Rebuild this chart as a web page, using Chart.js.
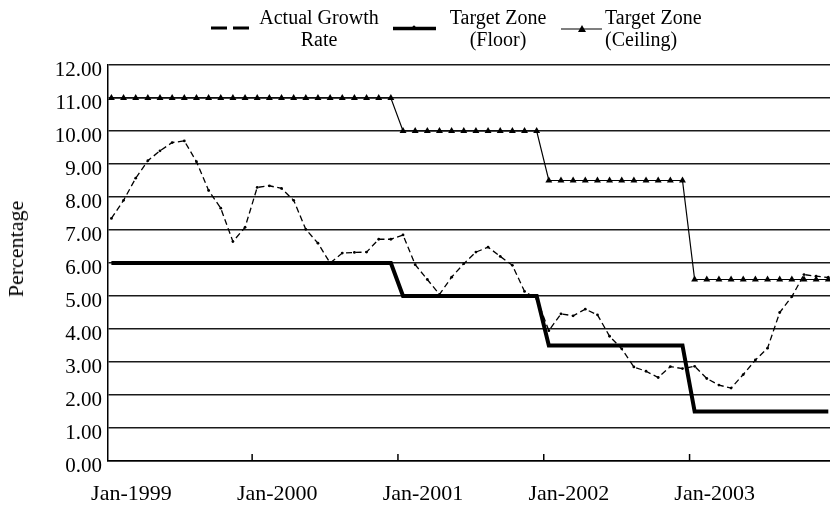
<!DOCTYPE html>
<html><head><meta charset="utf-8">
<script src="https://cdn.jsdelivr.net/npm/chart.js@4"></script>
<style>
html,body{margin:0;padding:0;background:#fff;}
#wrap{position:relative;width:830px;height:506px;overflow:hidden;}
canvas{position:absolute;left:0;top:0;}
#lgsvg{position:absolute;left:0;top:0;}
.lg{position:absolute;font-family:"Liberation Serif","Times New Roman",serif;font-size:20px;line-height:22px;color:#000;white-space:nowrap;}
#ytitle{position:absolute;font-family:"Liberation Serif","Times New Roman",serif;font-size:22px;line-height:24px;color:#000;left:15.5px;top:249px;transform:translate(-50%,-50%) rotate(-90deg);white-space:nowrap;}
</style></head>
<body>
<div id="wrap">
<canvas id="c" width="830" height="506"></canvas>
<svg id="lgsvg" width="830" height="60">
  <line x1="211" y1="28" x2="250" y2="28" stroke="#000" stroke-width="3" stroke-dasharray="16 6"/>
  <line x1="393" y1="28.5" x2="436" y2="28.5" stroke="#000" stroke-width="3.5"/>
  <circle cx="414" cy="27" r="1.5" fill="#000"/>
  <line x1="561" y1="29" x2="602" y2="29" stroke="#000" stroke-width="1.2"/>
  <polygon points="582,25 586,32 578,32" fill="#000"/>
</svg>
<div class="lg" style="left:239px;width:160px;top:6px;text-align:center">Actual Growth<br>Rate</div>
<div class="lg" style="left:418px;width:160px;top:6px;text-align:center">Target Zone<br>(Floor)</div>
<div class="lg" style="left:605px;top:6px;text-align:left">Target Zone<br>(Ceiling)</div>
<div id="ytitle">Percentage</div>
</div>
<script>
const xTickLabels = ['Jan-1999','Jan-2000','Jan-2001','Jan-2002','Jan-2003'];
const xTickMonths = [0, 12, 24, 36, 48];

const actualGrowth = [
  7.35, 7.90, 8.57, 9.10, 9.40, 9.65, 9.70, 9.07, 8.20, 7.66, 6.65, 7.08,
  8.29, 8.34, 8.26, 7.90, 7.02, 6.60, 6.00, 6.30, 6.32, 6.33, 6.72, 6.72,
  6.85, 5.95, 5.50, 5.05, 5.57, 5.98, 6.33, 6.48, 6.20, 5.93, 5.14, 4.92,
  3.95, 4.46, 4.40, 4.60, 4.43, 3.78, 3.40, 2.85, 2.72, 2.53, 2.86, 2.80,
  2.87, 2.50, 2.30, 2.21, 2.62, 3.06, 3.42, 4.50, 4.98, 5.65, 5.60, 5.56
];
const targetFloor = [
  6, 6, 6, 6, 6, 6, 6, 6, 6, 6, 6, 6,
  6, 6, 6, 6, 6, 6, 6, 6, 6, 6, 6, 6,
  5, 5, 5, 5, 5, 5, 5, 5, 5, 5, 5, 5,
  3.5, 3.5, 3.5, 3.5, 3.5, 3.5, 3.5, 3.5, 3.5, 3.5, 3.5, 3.5,
  1.5, 1.5, 1.5, 1.5, 1.5, 1.5, 1.5, 1.5, 1.5, 1.5, 1.5, 1.5
];
const targetCeiling = [
  11, 11, 11, 11, 11, 11, 11, 11, 11, 11, 11, 11,
  11, 11, 11, 11, 11, 11, 11, 11, 11, 11, 11, 11,
  10, 10, 10, 10, 10, 10, 10, 10, 10, 10, 10, 10,
  8.5, 8.5, 8.5, 8.5, 8.5, 8.5, 8.5, 8.5, 8.5, 8.5, 8.5, 8.5,
  5.5, 5.5, 5.5, 5.5, 5.5, 5.5, 5.5, 5.5, 5.5, 5.5, 5.5, 5.5
];

const toPts = arr => arr.map((v, i) => ({x: i, y: v}));

const innerTicks = {
  id: 'innerTicks',
  afterDraw(chart) {
    const xs = chart.scales.x, a = chart.chartArea, ctx = chart.ctx;
    ctx.save();
    ctx.strokeStyle = '#000';
    ctx.lineWidth = 1.5;
    xTickMonths.slice(1).forEach(m => {
      const px = (xs.getPixelForValue(m - 1) + xs.getPixelForValue(m)) / 2 + 1;
      ctx.beginPath();
      ctx.moveTo(px, a.bottom);
      ctx.lineTo(px, a.bottom - 7);
      ctx.stroke();
    });
    ctx.restore();
  }
};

new Chart(document.getElementById('c'), {
  type: 'line',
  data: {
    datasets: [
      {
        label: 'Actual Growth Rate',
        data: toPts(actualGrowth),
        borderColor: '#000',
        backgroundColor: '#000',
        borderWidth: 1.3,
        borderDash: [6, 3.5],
        pointRadius: 1.4,
        pointBorderWidth: 0,
        pointBackgroundColor: '#000',
        tension: 0
      },
      {
        label: 'Target Zone (Floor)',
        data: toPts(targetFloor),
        borderColor: '#000',
        backgroundColor: '#000',
        borderWidth: 4,
        pointRadius: 0,
        tension: 0
      },
      {
        label: 'Target Zone (Ceiling)',
        data: toPts(targetCeiling),
        borderColor: '#000',
        backgroundColor: '#000',
        borderWidth: 1.2,
        pointStyle: 'triangle',
        pointRadius: 4,
        pointBorderWidth: 0,
        pointBackgroundColor: '#000',
        tension: 0
      }
    ]
  },
  options: {
    responsive: false,
    animation: false,
    layout: {autoPadding: false, padding: {top: 65, left: 0, right: 0, bottom: 0}},
    plugins: {legend: {display: false}, tooltip: {enabled: false}},
    scales: {
      x: {
        type: 'linear',
        min: -0.28,
        max: 59.14,
        afterBuildTicks: s => { s.ticks = xTickMonths.map(v => ({value: v})); },
        afterFit: s => { s.height = 45; s.paddingLeft = 0; s.paddingRight = 0; },
        ticks: {
          callback: (v, i) => xTickLabels[i],
          autoSkip: false,
          maxRotation: 0,
          labelOffset: 20,
          padding: 20,
          color: '#000',
          font: {family: 'Liberation Serif', size: 22}
        },
        grid: {display: false, drawTicks: false},
        border: {display: true, color: '#000', width: 1.5}
      },
      y: {
        min: 0,
        max: 12,
        afterFit: s => { s.width = 108; },
        ticks: {
          stepSize: 1,
          callback: v => Number(v).toFixed(2),
          padding: 6,
          labelOffset: 5,
          color: '#000',
          font: {family: 'Liberation Serif', size: 21}
        },
        grid: {color: '#1a1a1a', lineWidth: 1.5, drawTicks: false},
        border: {display: true, color: '#000', width: 1.5}
      }
    }
  },
  plugins: [innerTicks]
});
</script>
</body></html>
